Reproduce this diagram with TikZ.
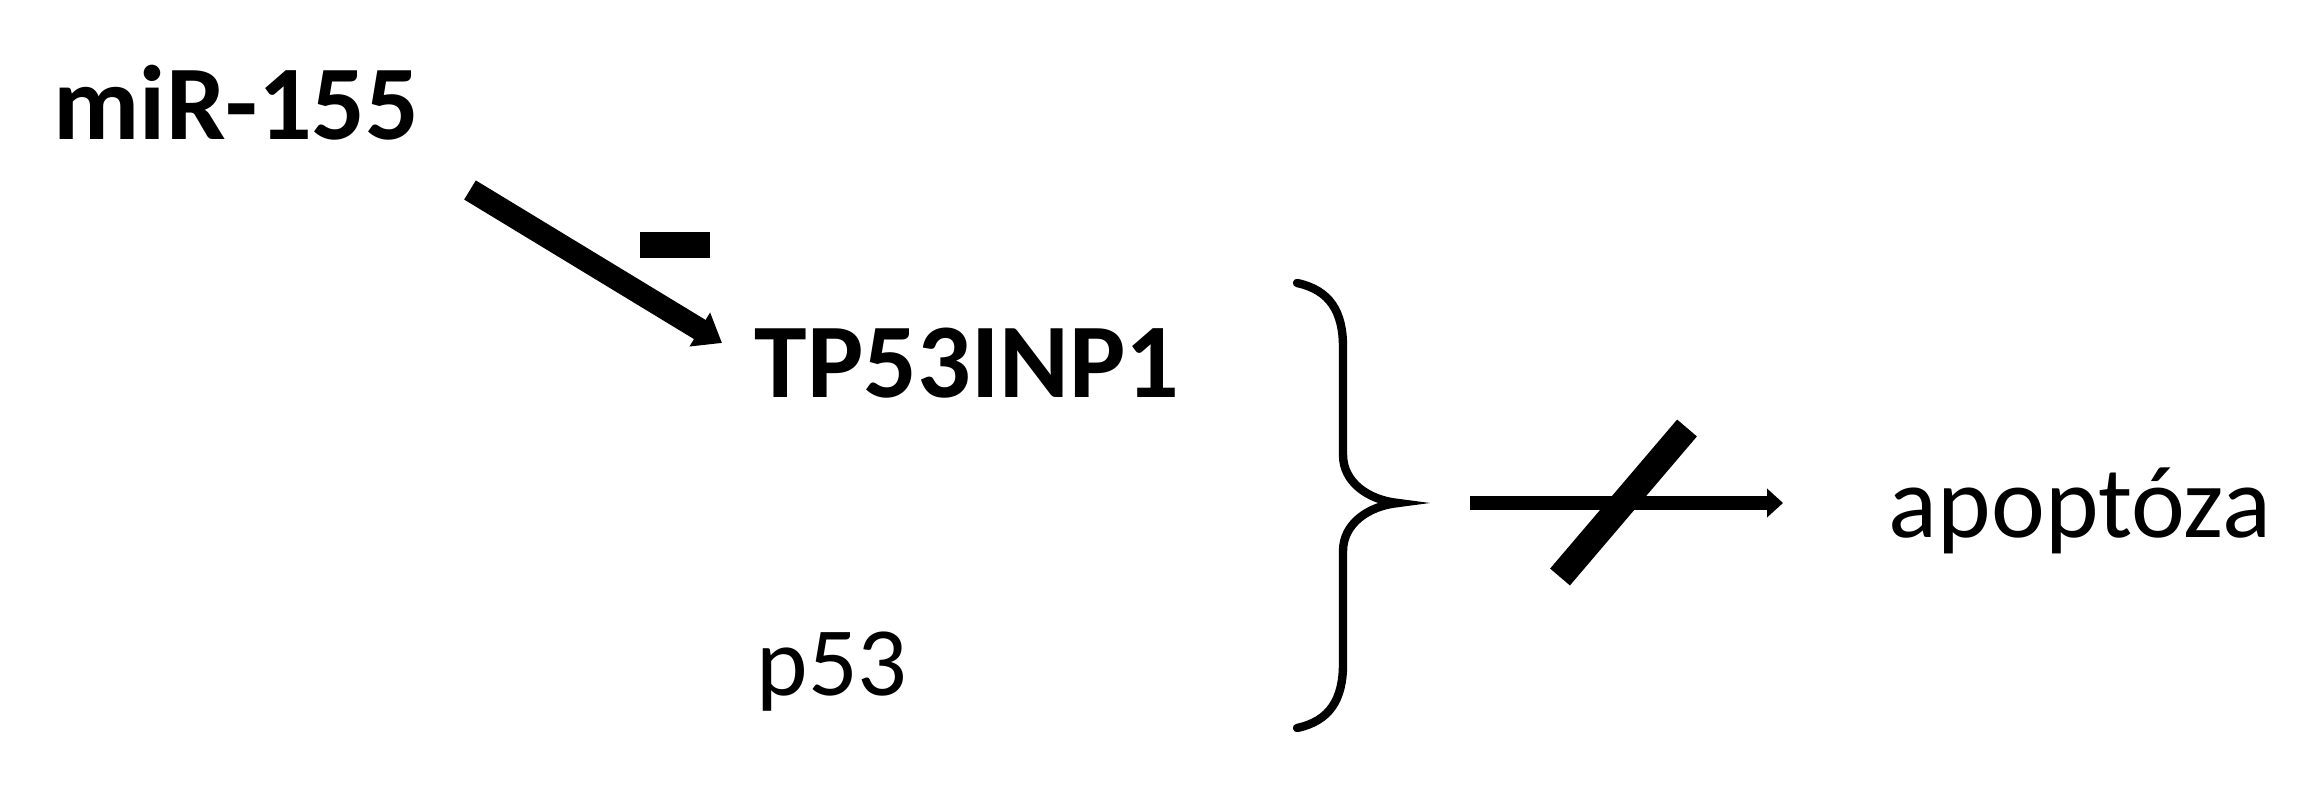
\documentclass[tikz,border=0pt]{standalone}
\usepackage{fontspec}
\setmainfont{Carlito}
\usetikzlibrary{arrows.meta}
\tikzset{
  lbl/.style={anchor=base west, inner sep=0pt, text=black},
  boldlbl/.style={lbl, font=\fontsize{26.5}{30}\selectfont\bfseries},
  plainlbl/.style={lbl, font=\fontsize{25.5}{30}\selectfont},
  thickarrow/.style={line width=5.6pt, -{Triangle[length=6.5pt, width=9.5pt]}},
  midarrow/.style={line width=3.3pt, -{Triangle[length=4pt, width=7pt]}},
  bracestyle/.style={line width=2.1pt, line cap=round},
  slashstyle/.style={line width=6.5pt}
}
\begin{document}
\begin{tikzpicture}[x=0.25pt, y=-0.25pt]
\useasboundingbox (0,0) rectangle (2308,800);
% texts
\node[boldlbl] (mir) at (53,140) {miR-155};
\node[boldlbl] (tp) at (754,398) {TP53INP1};
\node[plainlbl, font=\fontsize{24.5}{30}\selectfont] (p53) at (756,695) {p53};
\node[plainlbl] (apo) at (1888,538) {apoptóza};
% inhibition arrow
\coordinate (a1) at (470,190);
\coordinate (a2) at (722,343);
\draw[thickarrow] (a1) -- (a2);
\node[fill=black, minimum width=17.5pt, minimum height=6.3pt, inner sep=0pt] (minus) at (675,245) {};
% brace
\coordinate (btop) at (1297,283);
\coordinate (btip) at (1398,503);
\coordinate (bbot) at (1297,728);
\draw[bracestyle] (btop) .. controls (1330,290) and (1343,312) .. (1343,347)
  -- (1343,455) .. controls (1343,482) and (1368,500) .. (btip)
  .. controls (1368,506) and (1343,524) .. (1343,551)
  -- (1343,664) .. controls (1343,699) and (1330,721) .. (bbot);
% blocked arrow
\coordinate (c1) at (1470,503);
\coordinate (c2) at (1783,503);
\draw[midarrow] (c1) -- (c2);
\coordinate (s1) at (1560,577);
\coordinate (s2) at (1687,428);
\draw[slashstyle] (s1) -- (s2);
\end{tikzpicture}
\end{document}
